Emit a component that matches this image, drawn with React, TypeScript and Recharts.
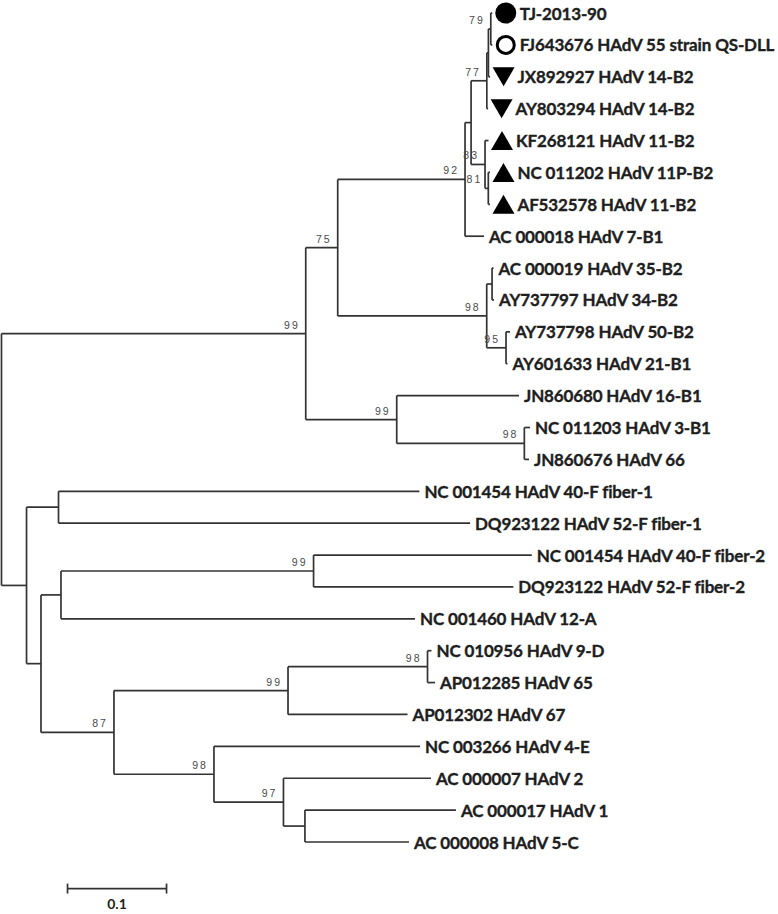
import React from 'react';
import { ComposedChart, XAxis, YAxis, Scatter, ReferenceLine } from 'recharts';

// leaves, top to bottom
const leafNames = [
  'TJ-2013-90',
  'FJ643676 HAdV 55 strain QS-DLL',
  'JX892927 HAdV 14-B2',
  'AY803294 HAdV 14-B2',
  'KF268121 HAdV 11-B2',
  'NC 011202 HAdV 11P-B2',
  'AF532578 HAdV 11-B2',
  'AC 000018 HAdV 7-B1',
  'AC 000019 HAdV 35-B2',
  'AY737797 HAdV 34-B2',
  'AY737798 HAdV 50-B2',
  'AY601633 HAdV 21-B1',
  'JN860680 HAdV 16-B1',
  'NC 011203 HAdV 3-B1',
  'JN860676 HAdV 66',
  'NC 001454 HAdV 40-F fiber-1',
  'DQ923122 HAdV 52-F fiber-1',
  'NC 001454 HAdV 40-F fiber-2',
  'DQ923122 HAdV 52-F fiber-2',
  'NC 001460 HAdV 12-A',
  'NC 010956 HAdV 9-D',
  'AP012285 HAdV 65',
  'AP012302 HAdV 67',
  'NC 003266 HAdV 4-E',
  'AC 000007 HAdV 2',
  'AC 000017 HAdV 1',
  'AC 000008 HAdV 5-C',
];
const leafMarkers = ['disc', 'ring', 'down', 'down', 'up', 'up', 'up'];
const leafParents = [
  'B79', 'B79', 'Bx', 'B77', 'B83', 'B81', 'B81', 'B92', 'B3534', 'B3534',
  'B95', 'B95', 'B99b', 'B98c', 'B98c', 'F1', 'F1', 'F2', 'F2', 'N3',
  'D98', 'D98', 'D99', 'E98', 'C97', 'C1', 'C1',
];
const leafLengths = [
  0.0015, 0.0015, 0.0017, 0.0013, 0.0035, 0.0017, 0.0017, 0.0192, 0.0015, 0.002,
  0.004, 0.0015, 0.1235, 0.0057, 0.0047, 0.3645, 0.4157, 0.2204, 0.2018, 0.3576,
  0.004, 0.0076, 0.1207, 0.2081, 0.149, 0.1525, 0.1051,
];

// internal nodes
const nodeIds = [
  'root', 'B', 'B75', 'B92', 'Ba', 'B77', 'Bx', 'B79', 'B83', 'B81', 'B98', 'B3534', 'B95',
  'B99b', 'B98c', 'N1', 'F1', 'N2', 'N3', 'F2', 'N87', 'D99', 'D98', 'E98', 'C97', 'C1',
];
const nodeParents = [
  null, 'root', 'B', 'B75', 'B92', 'Ba', 'B77', 'Bx', 'Ba', 'B83', 'B75', 'B98', 'B98',
  'B', 'B99b', 'root', 'N1', 'N1', 'N2', 'N3', 'N2', 'N87', 'D99', 'N87', 'E98', 'C97',
];
const nodeLengths = [
  0, 0.3073, 0.0323, 0.1286, 0.0061, 0.0159, 0.0016, 0.0024, 0.0141, 0.0033, 0.1505, 0.0054, 0.0195,
  0.0919, 0.1289, 0.0253, 0.0323, 0.0146, 0.0202, 0.2551, 0.0737, 0.1758, 0.1409, 0.101, 0.0702, 0.0217,
];
const nodeSupport = [
  null, 99, 75, 92, null, 77, null, 79, 83, 81, 98, null, 95,
  99, 98, null, null, null, null, 99, 87, 99, 98, 98, 97, null,
];

const scaleBarLength = 0.1;
const scaleBarLabel = '0.1';

const W = 778;
const H = 914;
const LINE = '#333';
const LABEL_FONT = "Lato, 'Open Sans', sans-serif";

type TreeNode = {
  id: string;
  parent: string | null;
  length: number;
  x: number;
  y: number;
  children: TreeNode[];
  leaf?: number;
  support?: number | null;
};

function buildTree() {
  const map = new Map<string, TreeNode>();
  nodeIds.forEach((id, i) =>
    map.set(id, { id, parent: nodeParents[i], length: nodeLengths[i], x: 0, y: 0, children: [], support: nodeSupport[i] })
  );
  leafNames.forEach((_, i) =>
    map.set('leaf' + i, { id: 'leaf' + i, parent: leafParents[i], length: leafLengths[i], x: 0, y: i, children: [], leaf: i })
  );
  map.forEach((n) => {
    if (n.parent) map.get(n.parent)!.children.push(n);
  });
  const segments: { x1: number; y1: number; x2: number; y2: number }[] = [];
  const place = (n: TreeNode, depth: number) => {
    n.x = depth + n.length;
    n.children.forEach((c) => place(c, n.x));
    if (n.children.length) {
      const ys = n.children.map((c) => c.y);
      const lo = Math.min(...ys);
      const hi = Math.max(...ys);
      n.y = (lo + hi) / 2;
      segments.push({ x1: n.x, y1: lo, x2: n.x, y2: hi });
    }
    if (n.parent) segments.push({ x1: depth, y1: n.y, x2: n.x, y2: n.y });
  };
  place(map.get('root')!, 0);
  const all = Array.from(map.values());
  const leaves = all
    .filter((n) => n.leaf !== undefined)
    .map((n) => ({ x: n.x, y: n.y, name: leafNames[n.leaf!], marker: leafMarkers[n.leaf!] }));
  const supports = all
    .filter((n) => n.support != null)
    .map((n) => ({ x: n.x, y: n.y, support: n.support }));
  return { segments, leaves, supports };
}

const { segments, leaves, supports } = buildTree();

const LeafShape = (props: any) => {
  const { cx, cy, payload } = props;
  const m = payload.marker;
  const mx = cx + 13.5;
  let marker = null;
  if (m === 'disc') marker = <circle cx={mx} cy={cy} r={10.5} fill="#000" />;
  if (m === 'ring') marker = <circle cx={mx} cy={cy} r={8.5} fill="none" stroke="#000" strokeWidth={3} />;
  if (m === 'down')
    marker = <polygon points={`${mx - 11},${cy - 9.5} ${mx + 11},${cy - 9.5} ${mx},${cy + 9.5}`} fill="#000" />;
  if (m === 'up')
    marker = <polygon points={`${mx - 11},${cy + 9.5} ${mx + 11},${cy + 9.5} ${mx},${cy - 9.5}`} fill="#000" />;
  return (
    <g>
      {marker}
      <text
        x={m ? cx + 27.5 : cx + 5}
        y={cy}
        dominantBaseline="central"
        fontFamily={LABEL_FONT}
        fontWeight={700}
        fontSize={17}
        letterSpacing={-0.15}
        fill="#1e1e1e"
        stroke="#1e1e1e"
        strokeWidth={0.35}
      >
        {payload.name}
      </text>
    </g>
  );
};

const SupportShape = (props: any) => {
  const { cx, cy, payload } = props;
  return (
    <text
      x={cx - 6}
      y={cy - 5}
      textAnchor="end"
      fontFamily="'Liberation Sans', Arial, sans-serif"
      fontSize={10.5}
      letterSpacing={2}
      fill="#4a4a4a"
    >
      {payload.support}
    </text>
  );
};

const ScaleBar = (props: any) => {
  const { x1, y1, x2 } = props;
  return (
    <g stroke={LINE} strokeWidth={1.7}>
      <line x1={x1} y1={y1} x2={x2} y2={y1} />
      <line x1={x1} y1={y1 - 5} x2={x1} y2={y1 + 5} />
      <line x1={x2} y1={y1 - 5} x2={x2} y2={y1 + 5} />
      <text
        x={(x1 + x2) / 2}
        y={y1 + 15}
        textAnchor="middle"
        dominantBaseline="central"
        fontFamily={LABEL_FONT}
        fontWeight={700}
        fontSize={14}
        fill="#1e1e1e"
        stroke="none"
      >
        {scaleBarLabel}
      </text>
    </g>
  );
};

export default function App() {
  return (
    <div style={{ width: W, height: H, background: '#fff' }}>
      <style>{'body{margin:0;background:#fff}'}</style>
      <ComposedChart width={W} height={H} margin={{ top: 0, right: 0, bottom: 0, left: 0 }}>
        <XAxis type="number" dataKey="x" hide domain={[-0.0015, 0.7843]} allowDataOverflow />
        <YAxis type="number" dataKey="y" hide reversed domain={[-0.408, 28.258]} allowDataOverflow />
        {segments.map((s, i) => (
          <ReferenceLine
            key={`seg-${i}`}
            segment={[{ x: s.x1, y: s.y1 }, { x: s.x2, y: s.y2 }]}
            stroke={LINE}
            strokeWidth={1.7}
            ifOverflow="visible"
          />
        ))}
        <ReferenceLine
          segment={[{ x: 0.0667, y: 27.46 }, { x: 0.0667 + scaleBarLength, y: 27.46 }]}
          shape={ScaleBar}
          ifOverflow="visible"
        />
        <Scatter data={leaves} shape={LeafShape} isAnimationActive={false} />
        <Scatter data={supports} shape={SupportShape} isAnimationActive={false} />
      </ComposedChart>
    </div>
  );
}
